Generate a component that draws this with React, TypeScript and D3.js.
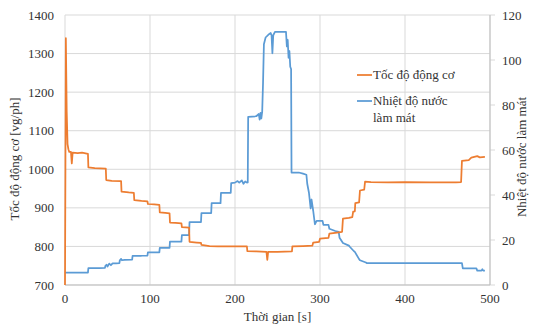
import React from "react";
import * as d3 from "d3";

const xTicks = [0, 100, 200, 300, 400, 500];
const speedTicks = [700, 800, 900, 1000, 1100, 1200, 1300, 1400];
const tempTicks = [0, 20, 40, 60, 80, 100, 120];

// Engine speed [vg/ph] vs time [s]
const speedData: [number, number][] = [
  [0, 700], [0.5, 1000], [1, 1340], [2, 1150], [3, 1065], [4, 1052], [5, 1045], [7, 1045],
  [8, 1015], [9, 1043], [15, 1042], [20, 1043], [27, 1040], [27.5, 1005], [35, 1003], [48, 1002],
  [48.5, 972], [55, 970], [66, 969], [66.5, 942], [75, 940], [81, 939], [81.5, 920], [90, 918],
  [97, 917], [97.5, 910], [105, 909], [111, 908], [111.5, 888], [118, 887], [123, 886], [123.5, 862],
  [130, 861], [137, 860], [137.5, 850], [146, 849], [146.5, 812], [155, 810], [160, 809], [160.5, 804],
  [170, 801], [180, 800], [200, 800], [214, 800], [214.5, 788], [225, 787], [237, 786], [238, 765],
  [239, 786], [250, 786], [267, 787], [267.5, 800], [280, 801], [291, 802], [292, 810], [299, 812],
  [300, 820], [310, 822], [311, 833], [320, 836], [326, 838], [327, 872], [334, 874], [338, 876],
  [339, 890], [341, 891], [341.5, 912], [346, 914], [347, 945], [352, 947], [353, 968], [360, 967],
  [380, 966], [400, 967], [430, 966], [460, 966], [466, 967], [467, 1022], [475, 1024], [478, 1030],
  [485, 1034], [488, 1031], [494, 1032],
];

// Coolant temperature vs time [s]
const tempData: [number, number][] = [
  [0, 5.5], [27, 5.5], [27.5, 7.5], [40, 7.5], [47, 7.6], [47.5, 8.5], [49, 9], [50, 8.2], [52, 9.5],
  [54, 8.8], [56, 9.6], [60, 9.6], [64, 9.7], [64.5, 11], [66, 11.6], [67, 11], [70, 11.2], [79, 11.3],
  [79.5, 13], [90, 13], [97, 13.1], [97.5, 14.5], [111, 14.5], [111.5, 16.5], [123, 16.5], [123.5, 19.3],
  [137, 19.3], [137.5, 22.2], [146, 22.2], [146.5, 28], [160, 28], [160.5, 32], [172, 32], [172.5, 36.4],
  [183, 36.4], [183.5, 41], [195, 41], [195.5, 45.3], [200, 45.5], [203, 46.2], [205, 45.5], [208, 46.5],
  [210, 45], [212, 46], [214, 45.5], [215, 45.6], [215.5, 74.7], [225, 75], [228, 76], [229, 73.5],
  [230, 76.5], [231, 74], [232, 77], [233, 90], [234, 107], [236, 110], [240, 111.5], [242, 112],
  [243, 111], [244, 103], [245, 111], [247, 112.5], [255, 112.5], [260, 112.5], [261, 106], [262, 109],
  [263, 101], [264, 104], [265, 97], [266, 96], [266.5, 50], [275, 50], [280, 49.5], [284, 49], [285, 45],
  [287, 41], [289, 34], [290, 38], [292, 33], [294, 27], [296, 28.5], [303, 28.5], [304, 26.7], [310, 26.7],
  [311, 25], [318, 24], [322, 23.6], [323, 21], [327, 18.7], [334, 17.5], [335, 17], [340, 15], [341, 14.7],
  [346, 11.5], [347, 11], [354, 10], [355, 9.7], [400, 9.7], [467, 9.7], [468, 7.4], [484, 7.4], [485, 6.4],
  [490, 6.4], [491, 7], [492, 6.4], [494, 6.4],
];

const seriesNames = ["Tốc độ động cơ", "Nhiệt độ nước", "làm mát"];

export default function App() {
  const W = 535, H = 325;
  const left = 65, right = 490, top = 15, bottom = 285;
  const x = d3.scaleLinear().domain([0, 500]).range([left, right]);
  const yL = d3.scaleLinear().domain([700, 1400]).range([bottom, top]);
  const yR = d3.scaleLinear().domain([0, 120]).range([bottom, top]);
  const speedLine = d3.line<[number, number]>().x(d => x(d[0])).y(d => yL(d[1]));
  const tempLine = d3.line<[number, number]>().x(d => x(d[0])).y(d => yR(d[1]));
  const ts = { fontFamily: "Liberation Serif", fontSize: "13px" };
  const txt = "#333333";
  const grid = "#d9d9d9";
  const orange = "#ED7D31";
  const blue = "#5B9BD5";
  return (
    <svg width={W} height={H} style={{ position: "absolute", left: 0, top: 0, display: "block", background: "#fff" }}>
      {speedTicks.map(t => (
        <line key={"h" + t} x1={left} x2={right} y1={yL(t)} y2={yL(t)} stroke={grid} strokeWidth={1} />
      ))}
      {xTicks.map(t => (
        <line key={"v" + t} x1={x(t)} x2={x(t)} y1={top} y2={bottom} stroke={grid} strokeWidth={1} />
      ))}
      {tempTicks.map(t => (
        <line key={"rt" + t} x1={right} x2={right + 5} y1={yR(t)} y2={yR(t)} stroke={grid} strokeWidth={1} />
      ))}
      <line x1={right} x2={right} y1={top} y2={bottom} stroke="#bfbfbf" strokeWidth={1} />
      <line x1={left} x2={right} y1={bottom} y2={bottom} stroke="#bfbfbf" strokeWidth={1} />
      <path d={tempLine(tempData) || ""} fill="none" stroke={blue} strokeWidth={1.75} strokeLinejoin="round" />
      <path d={speedLine(speedData) || ""} fill="none" stroke={orange} strokeWidth={1.75} strokeLinejoin="round" />
      {speedTicks.map(t => (
        <text key={"lt" + t} style={ts} x={54} y={yL(t)} dy="0.35em" textAnchor="end" fill={txt}>{t}</text>
      ))}
      {tempTicks.map(t => (
        <text key={"rl" + t} style={ts} x={502} y={yR(t)} dy="0.35em" textAnchor="start" fill={txt}>{t}</text>
      ))}
      {xTicks.map(t => (
        <text key={"xl" + t} style={ts} x={x(t)} y={303} textAnchor="middle" fill={txt}>{t}</text>
      ))}
      <text style={ts} x={(left + right) / 2} y={321} textAnchor="middle" fill={txt}>Thời gian [s]</text>
      <text style={ts} transform={`translate(19,${(top + bottom) / 2 + 9}) rotate(-90)`} textAnchor="middle" fill={txt}>
        Tốc độ động cơ [vg/ph]
      </text>
      <text style={ts} transform={`translate(526,${(top + bottom) / 2 + 7}) rotate(-90)`} textAnchor="middle" fill={txt}>
        Nhiệt độ nước làm mát
      </text>
      <line x1={357} x2={372} y1={75} y2={75} stroke={orange} strokeWidth={1.75} />
      <text style={ts} x={373} y={79} fill={txt}>{seriesNames[0]}</text>
      <line x1={357} x2={372} y1={101} y2={101} stroke={blue} strokeWidth={1.75} />
      <text style={ts} x={373} y={105} fill={txt}>{seriesNames[1]}</text>
      <text style={ts} x={373} y={122} fill={txt}>{seriesNames[2]}</text>
    </svg>
  );
}
